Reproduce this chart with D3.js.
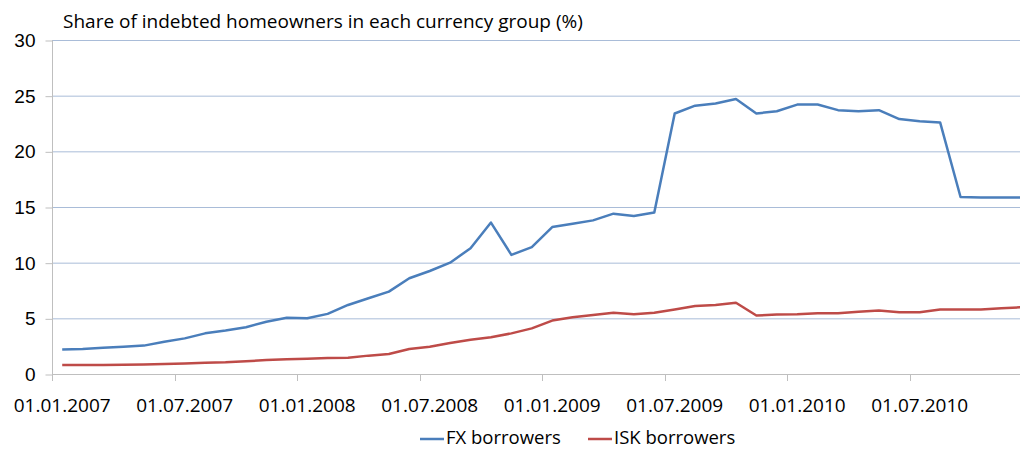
<!DOCTYPE html>
<html>
<head>
<meta charset="utf-8">
<script src="https://cdn.jsdelivr.net/npm/d3@7"></script>
<style>
  html, body { margin: 0; padding: 0; background: #fff; overflow: hidden; }
  svg { display: block; font-family: "Open Sans", "Noto Sans", sans-serif; }
</style>
</head>
<body>
<svg id="chart" width="1020" height="449"></svg>
<script>
// monthly observations, Jan 2007 - Dec 2010
var months = [];
for (var y = 2007; y <= 2010; y++) {
    for (var m = 1; m <= 12; m++) {
        months.push('01.' + (m < 10 ? '0' + m : m) + '.' + y);
    }
}

var fxBorrowers = [
    2.2, 2.25, 2.35, 2.45, 2.55, 2.9, 3.2, 3.65, 3.9, 4.2, 4.7, 5.05,
    5.0, 5.4, 6.2, 6.8, 7.4, 8.6, 9.25, 10.0, 11.3, 13.6, 10.7, 11.4,
    13.2, 13.5, 13.8, 14.4, 14.2, 14.5, 23.4, 24.1, 24.3, 24.7, 23.4, 23.6,
    24.2, 24.2, 23.7, 23.6, 23.7, 22.9, 22.7, 22.6, 15.9, 15.85, 15.85, 15.85
];

var iskBorrowers = [
    0.8, 0.8, 0.8, 0.82, 0.85, 0.9, 0.95, 1.0, 1.05, 1.15, 1.25, 1.33,
    1.38, 1.44, 1.45, 1.65, 1.8, 2.25, 2.45, 2.78, 3.08, 3.3, 3.65, 4.1,
    4.8, 5.1, 5.3, 5.5, 5.36, 5.5, 5.8, 6.1, 6.2, 6.4, 5.25, 5.35,
    5.36, 5.45, 5.45, 5.6, 5.7, 5.55, 5.55, 5.8, 5.8, 5.8, 5.9, 6.0
];

var yTicks = [0, 5, 10, 15, 20, 25, 30];

var seriesNames = ['FX borrowers', 'ISK borrowers'];
var seriesColors = ['#4a7ebb', '#be4b48'];

//plot area
var plot = { left: 52, right: 1032, top: 40, bottom: 374 },
    svg = d3.select('#chart');

var x = d3.scaleBand().domain(months).range([plot.left, plot.right]);
var yScale = d3.scaleLinear().domain([0, 30]).range([plot.bottom, plot.top]);

//gridlines
svg.append('g').selectAll('line')
    .data(yTicks.filter(function (d) { return d > 0; }))
    .enter().append('line')
    .attr('x1', plot.left).attr('x2', plot.right)
    .attr('y1', function (d) { return yScale(d) + 0.5; })
    .attr('y2', function (d) { return yScale(d) + 0.5; })
    .attr('stroke', '#a9bcd8').attr('stroke-width', 1);

//y axis
var yAxis = d3.axisLeft(yScale).tickValues(yTicks).tickSize(7).tickPadding(10);
var yG = svg.append('g').attr('transform', 'translate(' + (plot.left + 0.5) + ',0.5)').call(yAxis);
yG.select('.domain').attr('stroke', '#bfbfbf').attr('d', 'M0,' + plot.top + 'V' + plot.bottom);
yG.selectAll('.tick line').attr('stroke', '#bfbfbf');
yG.selectAll('.tick text').attr('fill', '#000').style('font-size', '19px').style('font-family', null);

//x axis: tick marks on category boundaries every 6 months, labels centered
var xG = svg.append('g');
xG.append('line')
    .attr('x1', plot.left).attr('x2', plot.right)
    .attr('y1', plot.bottom + 0.5).attr('y2', plot.bottom + 0.5)
    .attr('stroke', '#bfbfbf');
var labelled = months.filter(function (d, i) { return i % 6 === 0; });
xG.selectAll('line.tick')
    .data(labelled)
    .enter().append('line')
    .attr('class', 'tick')
    .attr('x1', function (d) { return Math.round(x(d)) + 0.5; })
    .attr('x2', function (d) { return Math.round(x(d)) + 0.5; })
    .attr('y1', plot.bottom).attr('y2', plot.bottom + 7)
    .attr('stroke', '#bfbfbf');
xG.selectAll('text')
    .data(labelled)
    .enter().append('text')
    .attr('x', function (d) { return x(d) + x.bandwidth() / 2; })
    .attr('y', 412)
    .attr('text-anchor', 'middle')
    .style('font-size', '19px')
    .text(function (d) { return d; });

//lines
var line = d3.line()
    .x(function (d, i) { return x(months[i]) + x.bandwidth() / 2; })
    .y(function (d) { return yScale(d); });

[fxBorrowers, iskBorrowers].forEach(function (s, k) {
    svg.append('path')
        .datum(s)
        .attr('d', line)
        .attr('fill', 'none')
        .attr('stroke', seriesColors[k])
        .attr('stroke-width', 2.5)
        .attr('stroke-linejoin', 'round');
});

//title
svg.append('text')
    .attr('x', 63).attr('y', 28)
    .style('font-size', '19px')
    .text('Share of indebted homeowners in each currency group (%)');

//legend
var legendX = [420, 588];
var lg = svg.append('g');
seriesNames.forEach(function (n, k) {
    lg.append('line')
        .attr('x1', legendX[k]).attr('x2', legendX[k] + 24)
        .attr('y1', 439).attr('y2', 439)
        .attr('stroke', seriesColors[k]).attr('stroke-width', 2.5);
    lg.append('text')
        .attr('x', legendX[k] + 26).attr('y', 444)
        .style('font-size', '18.5px')
        .text(n);
});
</script>
</body>
</html>
